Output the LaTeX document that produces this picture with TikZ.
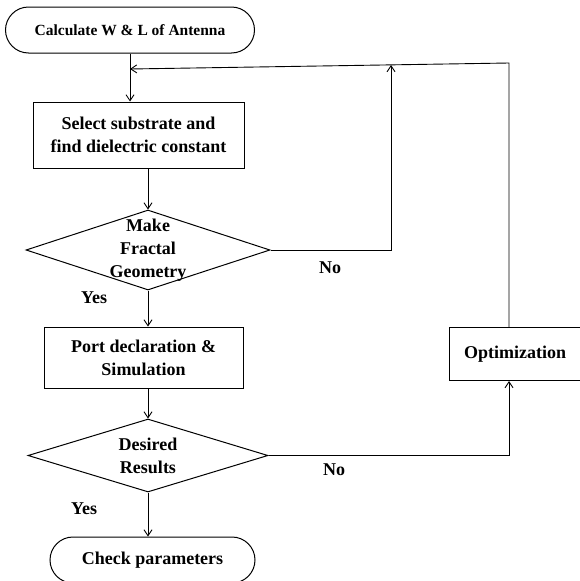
\documentclass[tikz,border=0pt]{standalone}
\usepackage{fontspec}
\setmainfont{Liberation Serif}
\usetikzlibrary{shapes.geometric,arrows.meta}
\begin{document}
\begin{tikzpicture}[x=1pt,y=-1pt,
  txt/.style={font=\bfseries\fontsize{18}{23}\selectfont, align=center, inner sep=0},
  box/.style={txt, draw, line width=1pt},
  term/.style={box, rounded corners=23pt},
  dec/.style={draw, diamond, line width=1pt, inner sep=0},
  arr/.style={line width=0.9pt, -{Straight Barb[length=6pt,width=8pt]}},
  ln/.style={line width=0.9pt}]
\useasboundingbox (0,0) rectangle (579,581);
\node[term, minimum width=249pt, minimum height=46pt, font=\bfseries\fontsize{15.5}{19}\selectfont] (start) at (130,30) {Calculate W \& L of Antenna};
\node[box, minimum width=211pt, minimum height=66pt] (box1) at (138.5,135) {Select substrate and\\find dielectric constant};
\node[dec, minimum width=244pt, minimum height=80pt] (d1) at (148,250) {};
\node[txt] (d1t) at (148,250) {Make\\Fractal\\Geometry};
\node[box, minimum width=199pt, minimum height=61pt] (box2) at (143.5,357.5) {Port declaration \&\\Simulation};
\node[dec, minimum width=240pt, minimum height=73pt] (d2) at (148,455.5) {};
\node[txt] (d2t) at (148,456) {Desired\\Results};
\node[box, minimum width=132pt, minimum height=53pt] (opt) at (515,354) {Optimization};
\node[term, minimum width=205pt, minimum height=46pt] (end) at (152.5,560) {Check parameters};
\node[txt] (no1) at (330,268) {No};
\node[txt] (no2) at (334,470) {No};
\node[txt] (yes1) at (94,298) {Yes};
\node[txt] (yes2) at (84,509) {Yes};
\coordinate (tr) at (509,63);
\coordinate (tl) at (130,69);
\coordinate (n1) at (391,65);
\draw[arr] (start.south) -- (start.south |- box1.north);
\draw[arr] (tr |- opt.north) -- (tr) -- (tl);
\draw[arr] (d1.east) -| (n1);
\draw[arr] (d1.north |- box1.south) -- (d1.north);
\draw[arr] (d1.south) -- (d1.south |- box2.north);
\draw[arr] (d1.south |- box2.south) -- (d2.north);
\draw[arr] (d2.south) -- (d2.south |- end.north);
\draw[arr] (d2.east) -| (tr |- opt.south);
\end{tikzpicture}
\end{document}
